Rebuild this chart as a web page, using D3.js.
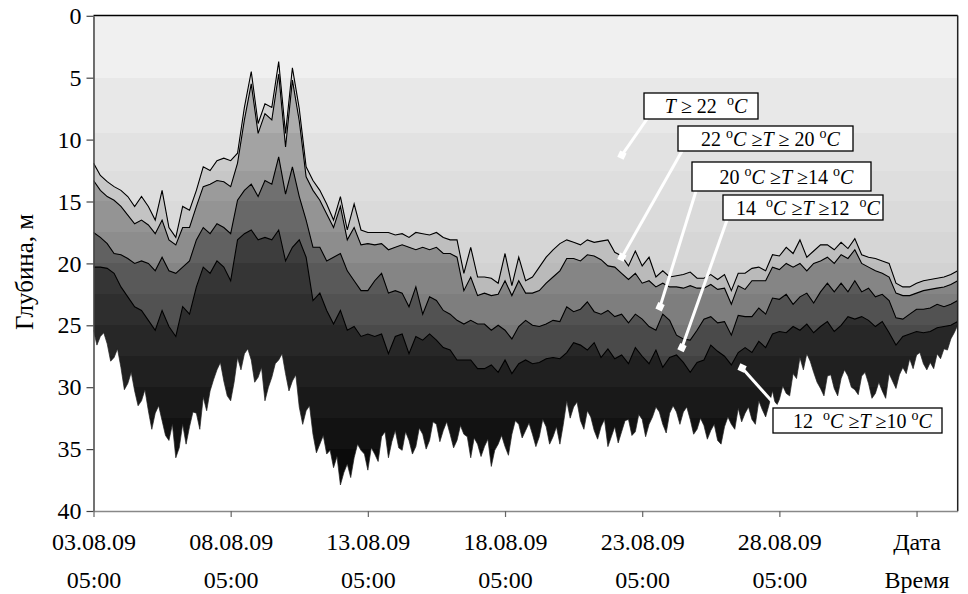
<!DOCTYPE html>
<html>
<head>
<meta charset="utf-8">
<script src="https://cdn.jsdelivr.net/npm/d3@7"></script>
<style>
  body { margin: 0; background: #fff; }
  svg text { font-family: "Liberation Serif", "Times New Roman", serif; }
</style>
</head>
<body>
<script>
// Isotherm depths (m) starting 03.08.09 05:00
const startTime = new Date(2009, 7, 3, 5, 0);
const stepHours = 6;      // iso22 .. iso12
const stepHours10 = 3;    // iso10 (lower edge, read more densely)

const iso22 = [11.9,12.9,13.4,13.8,14.1,14.6,15.4,14.6,15.4,16.5,
  14.1,17.1,17.9,15.4,15.7,14.1,12.2,12.5,11.7,11.5,
  11.7,11.1,7.4,4.5,8.7,7.1,7.4,3.7,9.5,4.2,
  7.5,12.2,13.3,14.1,15.2,16.5,14.6,17.3,15.2,17.3,
  17.5,17.5,17.5,17.5,17.7,17.6,17.9,17.5,17.6,17.7,
  17.5,17.9,18.1,18.1,20.8,18.7,21.1,21.1,21.2,21.6,
  19.2,21.8,19.5,21.4,21.1,20.3,19.5,18.9,18.4,18.1,
  18.3,18.5,18.1,18.3,18.2,18.1,19.1,19.4,20.2,19.0,
  20.2,19.5,21.1,20.6,21.1,21.0,20.9,20.7,21.2,21.2,
  20.9,21.3,20.9,22.2,20.8,20.8,20.4,20.3,20.6,19.3,
  19.4,18.7,19.2,18.1,19.5,19.0,18.5,18.5,18.9,18.3,
  18.8,18.0,19.3,19.5,19.6,19.8,20.0,21.6,21.9,21.9,
  21.6,21.4,21.3,21.2,21.1,20.9,20.6];

const iso20 = [13.3,14.1,14.6,14.9,15.4,16.1,16.8,16.5,16.9,17.6,
  16.5,18.1,18.5,17.1,17.1,15.4,13.8,13.6,13.3,13.4,
  13.8,11.9,8.4,5.5,9.5,7.9,8.4,4.7,10.6,5.2,
  8.5,13.0,14.1,14.9,16.0,17.1,15.4,18.1,17.1,18.5,
  18.4,18.5,18.4,18.9,18.7,18.5,18.7,18.9,18.7,18.9,
  18.7,19.2,19.2,19.5,22.2,21.1,22.6,22.4,22.6,22.5,
  21.4,22.6,21.4,22.4,22.4,22.2,21.6,21.1,20.6,19.6,
  19.6,19.8,19.3,19.4,19.7,20.2,20.3,20.8,21.3,20.8,
  21.6,21.4,21.9,21.6,21.9,21.9,22.0,21.8,22.0,22.0,
  21.7,22.1,22.0,23.3,21.8,22.1,21.4,21.4,21.4,20.3,
  20.5,20.0,20.3,20.0,20.6,20.0,19.8,19.5,20.0,19.3,
  19.6,18.9,20.0,20.3,20.6,20.8,21.1,22.4,22.6,22.6,
  22.4,22.2,22.1,22.0,21.9,21.7,21.4];

const iso14 = [17.5,17.9,18.4,19.2,19.3,19.6,20.0,19.8,20.0,20.6,
  19.5,20.6,20.8,20.3,19.8,18.1,17.1,17.6,16.8,17.1,
  17.6,14.9,14.1,13.6,14.6,13.3,13.6,11.4,14.4,12.2,
  14.6,16.5,18.7,18.7,19.8,19.5,19.2,20.6,21.4,22.2,
  22.2,21.4,20.8,22.4,22.2,22.4,23.5,21.9,24.1,22.7,
  23.0,23.8,24.1,24.6,24.9,24.6,24.9,24.9,25.4,25.0,
  25.4,26.1,25.1,24.6,25.0,25.1,24.9,24.6,24.7,23.5,
  23.9,23.7,23.1,23.9,24.1,23.8,24.3,24.1,24.8,24.1,
  24.5,25.1,25.4,24.1,24.6,25.8,26.1,26.2,25.4,24.5,
  24.3,24.8,24.7,25.8,24.2,24.3,24.3,23.6,24.1,22.8,
  22.9,22.5,23.3,22.7,22.4,23.2,22.3,21.6,22.3,21.6,
  22.3,21.4,22.3,22.0,22.7,22.5,23.0,24.4,24.5,24.1,
  23.7,23.7,23.6,23.3,23.5,23.3,23.0];

const iso12 = [20.3,20.3,20.4,20.8,21.9,22.7,23.5,23.8,24.6,25.4,
  23.8,25.1,25.9,23.5,24.1,21.9,20.3,20.8,19.8,20.3,
  21.4,18.1,17.6,17.3,18.1,17.9,18.1,17.3,19.8,18.7,
  18.1,19.5,23.0,22.4,23.8,24.9,23.8,25.4,25.1,25.9,
  25.7,25.9,25.7,27.3,25.9,25.7,27.3,25.9,26.2,25.7,
  26.2,26.8,27.0,27.8,27.8,27.8,28.5,28.5,28.2,28.8,
  27.8,28.9,28.1,27.8,28.1,28.0,27.7,27.6,27.7,27.2,
  26.4,26.6,27.0,26.4,27.6,26.9,27.7,27.4,28.1,26.8,
  27.5,28.1,27.0,28.4,27.6,27.4,28.0,28.8,28.0,27.8,
  26.6,27.1,27.5,28.2,27.2,26.8,27.2,26.3,26.8,25.7,
  25.5,25.6,25.1,25.4,24.9,25.6,25.1,24.7,25.5,25.0,
  24.3,24.5,24.3,24.6,25.1,24.7,25.6,26.6,25.9,25.7,
  25.5,25.6,25.5,25.2,25.1,25.0,24.7];

const iso10 = [25.4,26.6,25.9,25.6,26.5,27.9,27.6,26.9,28.4,30.2,
  29.7,28.8,30.3,31.5,31.1,30.2,31.9,33.4,32.1,31.5,
  32.7,33.9,34.3,33.0,35.7,34.9,33.0,34.6,33.2,32.0,
  32.1,33.4,30.8,31.9,30.3,29.4,28.6,28.0,29.5,30.7,
  31.1,29.6,27.6,28.6,27.3,26.9,27.8,29.6,29.2,28.4,
  31.1,30.0,29.2,28.1,27.8,27.3,28.9,30.3,29.5,29.0,
  31.6,33.0,31.9,31.5,33.8,35.3,34.6,33.9,35.4,35.1,
  36.5,35.6,37.9,36.9,36.2,37.3,35.7,34.6,35.1,35.4,
  36.7,34.9,35.4,36.0,34.0,33.6,35.7,34.4,33.5,34.9,
  35.1,33.6,34.3,35.4,34.8,33.3,33.8,35.0,34.3,32.8,
  33.0,34.4,33.5,32.8,33.8,34.9,34.3,33.1,33.8,34.0,
  35.7,34.1,34.6,35.6,34.8,34.2,36.4,35.1,34.6,33.9,
  34.8,35.5,33.8,32.7,33.0,34.1,33.5,32.9,33.8,34.8,
  34.0,32.6,33.2,34.6,34.0,33.2,34.6,33.0,31.1,32.5,
  31.6,31.2,32.7,33.4,31.9,32.4,33.5,34.2,33.2,32.6,
  34.8,34.0,33.2,34.5,33.6,32.7,32.6,33.9,33.6,32.2,
  32.6,34.0,33.0,32.4,31.6,32.0,33.0,33.7,32.1,31.5,
  32.0,33.0,32.0,31.6,32.6,33.8,33.4,32.5,33.1,34.2,
  33.5,33.0,34.3,34.6,33.2,32.4,33.0,33.4,31.7,32.8,
  32.1,31.6,32.6,33.0,31.1,31.8,32.4,31.4,30.3,31.6,
  31.0,29.9,30.5,30.7,28.9,29.3,27.6,28.6,27.3,27.9,
  28.8,29.6,30.1,30.7,29.1,29.0,30.1,30.7,29.3,28.6,
  29.1,30.0,30.2,30.6,29.1,28.8,29.7,30.9,30.5,29.6,
  30.3,30.9,28.9,29.5,30.1,29.0,28.4,28.9,27.7,28.5,
  27.4,27.2,28.1,28.6,28.0,28.5,27.3,27.7,26.9,27.0,
  26.1,25.6,25.0];

const depthTicks = [0, 5, 10, 15, 20, 25, 30, 35, 40];
const dateLabels = ["03.08.09", "08.08.09", "13.08.09", "18.08.09", "23.08.09", "28.08.09", "Дата"];
const timeLabels = ["05:00", "05:00", "05:00", "05:00", "05:00", "05:00", "Время"];

// legend labels: i = italic, s = superscript
const legendLabels = [
  [{t: "T", i: 1}, {t: " ≥ 22  "}, {t: "o", s: 1}, {t: "C", i: 1}],
  [{t: "22 "}, {t: "o", s: 1}, {t: "C", i: 1}, {t: " ≥"}, {t: "T", i: 1}, {t: " ≥ 20 "}, {t: "o", s: 1}, {t: "C", i: 1}],
  [{t: "20 "}, {t: "o", s: 1}, {t: "C", i: 1}, {t: " ≥"}, {t: "T", i: 1}, {t: " ≥14 "}, {t: "o", s: 1}, {t: "C", i: 1}],
  [{t: "14  "}, {t: "o", s: 1}, {t: "C", i: 1}, {t: " ≥"}, {t: "T", i: 1}, {t: " ≥12  "}, {t: "o", s: 1}, {t: "C", i: 1}],
  [{t: "12  "}, {t: "o", s: 1}, {t: "C", i: 1}, {t: " ≥"}, {t: "T", i: 1}, {t: " ≥10 "}, {t: "o", s: 1}, {t: "C", i: 1}]
];
// where each label points: days after start, depth (m)
const legendTargetDay = [19.26, 19.26, 20.65, 21.45, 23.64];
const legendTargetDepth = [11.25, 19.5, 23.5, 26.8, 28.45];

const W = 968, H = 594;
const pLeft = 93.5, pRight = 957.7, pTop = 15.5, pBottom = 511;

const times = iso22.map((d, i) => d3.timeHour.offset(startTime, i * stepHours));
const times10 = iso10.map((d, i) => d3.timeHour.offset(startTime, i * stepHours10));

const x = d3.scaleTime()
  .domain([times[0], times[times.length - 1]])
  .range([pLeft, pRight]);

const y = d3.scaleLinear()
  .domain([0, 40])
  .range([15.8, pBottom]);

const svg = d3.select("body").append("svg")
  .attr("width", W)
  .attr("height", H);

const defs = svg.append("defs");

defs.append("clipPath").attr("id", "plotClip")
  .append("rect")
  .attr("x", pLeft).attr("y", pTop)
  .attr("width", pRight - pLeft).attr("height", pBottom - pTop);

// stepped (banded) vertical gradients like the original
const bandEdges = [0, 5, 9.5, 12.5, 15, 17.5, 20, 22.5, 25, 27.5, 30, 32.5, 35, 37.5, 40];
function bandGradient(id, c0, c1) {
  const g = defs.append("linearGradient")
    .attr("id", id)
    .attr("gradientUnits", "userSpaceOnUse")
    .attr("x1", 0).attr("x2", 0)
    .attr("y1", y(0)).attr("y2", y(40));
  const col = d3.interpolateRgb(c0, c1);
  for (let k = 0; k < bandEdges.length - 1; k++) {
    const a = bandEdges[k], b = bandEdges[k + 1];
    const c = col((a + b) / 2 / 40);
    g.append("stop").attr("offset", a / 40).attr("stop-color", c);
    g.append("stop").attr("offset", b / 40).attr("stop-color", c);
  }
}

const layerColors = [
  ["#f4f4f4", "#b4b4b4"],
  ["#e0e0e0", "#989898"],
  ["#c2c2c2", "#505050"],
  ["#9a9a9a", "#202020"],
  ["#727272", "#000000"]
];
layerColors.forEach((c, k) => bandGradient("layer" + k, c[0], c[1]));

const idx = d3.range(times.length);
const idx10 = d3.range(times10.length);

const plot = svg.append("g").attr("clip-path", "url(#plotClip)");

// darkest layer (12..10 °C) drawn from the top down to iso10; upper layers cover it above iso12
plot.append("path")
  .datum(idx10)
  .attr("d", d3.area().x(i => x(times10[i])).y0(y(0) - 2).y1(i => y(iso10[i])))
  .attr("fill", "url(#layer4)");

const series = [null, iso22, iso20, iso14, iso12];
for (let k = 0; k < 4; k++) {
  const upper = series[k], lower = series[k + 1];
  const area = d3.area()
    .x(i => x(times[i]))
    .y0(i => upper ? y(upper[i]) : y(0) - 2)
    .y1(i => y(lower[i]));
  plot.append("path")
    .datum(idx)
    .attr("d", area)
    .attr("fill", "url(#layer" + k + ")");
}

// isotherm lines
const line = s => d3.line().x(i => x(times[i])).y(i => y(s[i]));
[iso22, iso20, iso14, iso12].forEach(s => {
  plot.append("path")
    .datum(idx)
    .attr("d", line(s))
    .attr("fill", "none")
    .attr("stroke", "#000")
    .attr("stroke-width", 1.1);
});
plot.append("path")
  .datum(idx10)
  .attr("d", d3.line().x(i => x(times10[i])).y(i => y(iso10[i])))
  .attr("fill", "none")
  .attr("stroke", "#222")
  .attr("stroke-width", 0.7);

// frame top / right
svg.append("line").attr("x1", pLeft).attr("x2", pRight).attr("y1", pTop).attr("y2", pTop)
  .attr("stroke", "#000").attr("stroke-width", 1.5);
svg.append("line").attr("x1", pRight).attr("x2", pRight).attr("y1", pTop).attr("y2", pBottom)
  .attr("stroke", "#222").attr("stroke-width", 1.5);

// y axis
svg.append("g")
  .attr("transform", `translate(${pLeft},0)`)
  .call(d3.axisLeft(y).tickValues(depthTicks).tickSize(7).tickPadding(5).tickSizeOuter(0))
  .attr("font-family", null).attr("font-size", null)
  .call(g => g.select(".domain").attr("stroke", "#444").attr("stroke-width", 1.5))
  .call(g => g.selectAll(".tick line").attr("stroke", "#444").attr("stroke-width", 1.2))
  .call(g => g.selectAll(".tick text").attr("font-size", 24).attr("fill", "#000"));

// x axis
const xTicks = d3.range(7).map(k => d3.timeDay.offset(startTime, 5 * k));
const xAxisG = svg.append("g")
  .attr("transform", `translate(0,${pBottom})`)
  .call(d3.axisBottom(x).tickValues(xTicks).tickFormat((d, i) => dateLabels[i])
    .tickSize(6).tickPadding(16).tickSizeOuter(0))
  .attr("font-family", null).attr("font-size", null)
  .call(g => g.select(".domain").attr("stroke", "#888").attr("stroke-width", 1.5))
  .call(g => g.selectAll(".tick line").attr("stroke", "#666").attr("stroke-width", 1.2))
  .call(g => g.selectAll(".tick text").attr("font-size", 24).attr("fill", "#000"));

xAxisG.selectAll(".tick").append("text")
  .attr("y", 60)
  .attr("dy", "0.71em")
  .attr("font-size", 24)
  .attr("fill", "#000")
  .attr("text-anchor", "middle")
  .text((d, i) => timeLabels[i]);

// y title
svg.append("text")
  .attr("transform", "translate(33,272) rotate(-90)")
  .attr("text-anchor", "middle")
  .attr("font-size", 25)
  .text("Глубина, м");

// legend boxes with white leader lines
const boxes = [
  {x: 644, y: 93, w: 114, h: 26, lx: 647, ly: 119},
  {x: 678, y: 126, w: 175, h: 25, lx: 682, ly: 151},
  {x: 692, y: 162, w: 179, h: 29, lx: 696, ly: 191},
  {x: 723, y: 195, w: 160, h: 25, lx: 727, ly: 220},
  {x: 773, y: 408, w: 169, h: 25, lx: 778, ly: 408}
];

const leg = svg.append("g");
boxes.forEach((b, k) => {
  const tx = x(d3.timeMinute.offset(startTime, Math.round(legendTargetDay[k] * 1440)));
  const ty = y(legendTargetDepth[k]);
  leg.append("line")
    .attr("x1", b.lx).attr("y1", b.ly)
    .attr("x2", tx).attr("y2", ty)
    .attr("stroke", "#fff").attr("stroke-width", 3);
  leg.append("rect")
    .attr("x", tx - 3.5).attr("y", ty - 3.5)
    .attr("width", 7).attr("height", 7)
    .attr("fill", "#fff")
    .attr("transform", `rotate(25,${tx},${ty})`);
});
boxes.forEach((b, k) => {
  leg.append("rect")
    .attr("x", b.x).attr("y", b.y)
    .attr("width", b.w).attr("height", b.h)
    .attr("fill", "#fff")
    .attr("stroke", "#000")
    .attr("stroke-width", 1.3);
  const t = leg.append("text")
    .attr("x", b.x + b.w / 2 + 5)
    .attr("y", b.y + b.h / 2 + 7)
    .attr("text-anchor", "middle")
    .attr("font-size", 20)
    .attr("xml:space", "preserve")
    .style("white-space", "pre");
  const parts = legendLabels[k];
  parts.forEach((p, j) => {
    const ts = t.append("tspan").text(p.t);
    if (p.i) ts.attr("font-style", "italic");
    if (p.s) ts.attr("font-size", 14).attr("dy", -8);
    else if (j > 0 && parts[j - 1].s) ts.attr("dy", 8);
  });
});
</script>
</body>
</html>
